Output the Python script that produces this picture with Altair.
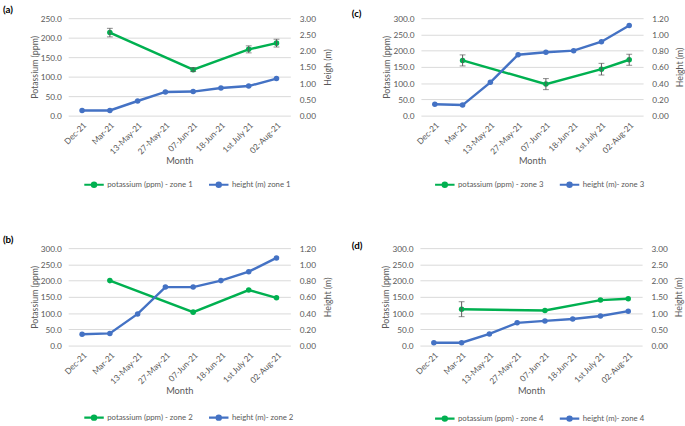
import altair as alt
import pandas as pd

months = ["Dec-21", "Mar-21", "13-May-21", "27-May-21", "07-Jun-21",
          "18-Jun-21", "1st July 21", "02-Aug-21"]
k_months = ["Mar-21", "07-Jun-21", "1st July 21", "02-Aug-21"]

# zone 1 (a)
k1 = [213, 118, 170, 186]
k1_err = [11, 5, 9, 10]
h1 = [0.16, 0.16, 0.45, 0.73, 0.74, 0.85, 0.91, 1.14]
# zone 2 (b)
k2 = [200, 103, 171, 147]
k2_err = [None, None, None, None]
h2 = [0.14, 0.15, 0.39, 0.72, 0.72, 0.80, 0.91, 1.08]
# zone 3 (c)
k3 = [170, 97, 143, 172]
k3_err = [17, 17, 18, 17]
h3 = [0.14, 0.13, 0.41, 0.75, 0.78, 0.80, 0.91, 1.11]
# zone 4 (d)
k4 = [112, 108, 140, 144]
k4_err = [23, None, None, None]
h4 = [0.09, 0.09, 0.36, 0.70, 0.76, 0.82, 0.91, 1.06]

GREEN = "#00b050"
BLUE = "#4472c4"
GRAY = "#595959"
GRID = "#d9d9d9"
FONT = "Lato"
W, H = 228, 100

LEG_SYMBOL = ("M-1,0 H1 "
              "M-0.22,0 A0.22,0.22 0 1,0 0.22,0 A0.22,0.22 0 1,0 -0.22,0 "
              "M-0.08,0 A0.08,0.08 0 1,0 0.08,0 A0.08,0.08 0 1,0 -0.08,0")


def panel(tag, tag_x, tag_y, k_vals, k_err, h_vals, k_max, h_max, h_step,
          k_label, h_label, h_title, leg_x, leg_y):
    kdf = pd.DataFrame({"month": k_months, "value": k_vals, "series": k_label})
    erows = [(m, v - e, v + e) for m, v, e in zip(k_months, k_vals, k_err) if e]
    edf = pd.DataFrame(erows, columns=["month", "lo", "hi"])
    hdf = pd.DataFrame({"month": months, "value": h_vals, "series": h_label})

    x = alt.X("month:N", sort=months, scale=alt.Scale(domain=months),
              axis=alt.Axis(title="Month", labelAngle=-45, domain=False,
                            ticks=False, labelPadding=5, labelFontSize=8.5,
                            labelColor=GRAY, titleColor=GRAY, titleFontSize=9.5,
                            titleFontWeight="normal", titleY=41, labelOverlap=False))
    color = alt.Color("series:N",
                      scale=alt.Scale(domain=[k_label, h_label], range=[GREEN, BLUE]),
                      legend=alt.Legend(title=None, orient="none", legendX=leg_x,
                                        legendY=leg_y, direction="horizontal",
                                        symbolType=LEG_SYMBOL, symbolSize=400,
                                        symbolStrokeWidth=2.2, labelFontSize=8,
                                        labelColor=GRAY, columnPadding=12,
                                        labelOffset=2))
    kscale = alt.Scale(domain=[0, k_max], nice=False)
    hscale = alt.Scale(domain=[0, h_max], nice=False)
    left_axis = alt.Axis(title="Potassium (ppm)", values=list(range(0, k_max + 1, 50)),
                         format=".1f", grid=True, gridColor=GRID, domain=False,
                         ticks=False, labelPadding=7, labelFontSize=8.5,
                         labelColor=GRAY, titleColor=GRAY, titleFontSize=9,
                         titleFontWeight="normal", titleAngle=270,
                         titleX=-35, titleY=H / 2, titleAlign="center",
                         titleBaseline="middle", labelOverlap=False)
    n = int(round(h_max / h_step))
    right_axis = alt.Axis(title=h_title, orient="right",
                          values=[round(i * h_step, 2) for i in range(n + 1)],
                          format=".2f", grid=False, domain=False, ticks=False,
                          labelPadding=9, labelFontSize=8.5, labelColor=GRAY,
                          titleColor=GRAY, titleFontSize=9,
                          titleFontWeight="normal", titleAngle=270,
                          titleBaseline="top", titlePadding=8,
                          labelOverlap=False)

    kbase = alt.Chart(kdf)
    k_pts = kbase.mark_circle(size=32, opacity=1).encode(
        x=x, y=alt.Y("value:Q", scale=kscale, axis=left_axis), color=color)
    k_line = kbase.mark_line(strokeWidth=2.5).encode(
        x=x, y=alt.Y("value:Q", scale=kscale, axis=left_axis), color=color)
    layers = [k_pts, k_line]
    if len(edf):
        ebase = alt.Chart(edf)
        layers.append(ebase.mark_rule(color=GRAY, strokeWidth=1).encode(
            x=x, y=alt.Y("lo:Q", scale=kscale, axis=left_axis), y2="hi:Q"))
        layers.append(ebase.mark_tick(color=GRAY, size=6, thickness=1).encode(
            x=x, y=alt.Y("lo:Q", scale=kscale, axis=left_axis)))
        layers.append(ebase.mark_tick(color=GRAY, size=6, thickness=1).encode(
            x=x, y=alt.Y("hi:Q", scale=kscale, axis=left_axis)))
    left = alt.layer(*layers)

    hbase = alt.Chart(hdf)
    h_pts = hbase.mark_circle(size=32, opacity=1).encode(
        x=x, y=alt.Y("value:Q", scale=hscale, axis=right_axis), color=color)
    h_line = hbase.mark_line(strokeWidth=2.5).encode(
        x=x, y=alt.Y("value:Q", scale=hscale, axis=right_axis), color=color)
    right = alt.layer(h_pts, h_line)

    tag_txt = alt.Chart(pd.DataFrame({"t": [tag]})).mark_text(
        align="left", baseline="middle", fontSize=10, fontWeight="bold",
        color="#000000").encode(text="t:N", x=alt.value(tag_x), y=alt.value(tag_y))

    return alt.layer(left, right, tag_txt).resolve_scale(y="independent").properties(
        width=W, height=H)


pa = panel("(a)", -67, -8, k1, k1_err, h1, 250, 3.0, 0.5,
           "potassium (ppm) - zone 1", "height (m) zone 1", "Heigh (m)", 15, 159)
pc = panel("(c)", -71, -4, k3, k3_err, h3, 300, 1.2, 0.2,
           "potassium (ppm) - zone 3", "height (m)- zone 3", "Height (m)", 13, 159)
pb = panel("(b)", -67, -8, k2, k2_err, h2, 300, 1.2, 0.2,
           "potassium (ppm) - zone 2", "height (m)- zone 2", "Height (m)", 15, 162)
pd_ = panel("(d)", -70, -2, k4, k4_err, h4, 300, 3.0, 0.5,
            "potassium (ppm) - zone 4", "height (m)- zone 4", "Height (m)", 14, 163)

top = alt.hconcat(pa, pc, spacing=20).resolve_scale(color="independent")
bottom = alt.hconcat(pb, pd_, spacing=20).resolve_scale(color="independent")
chart = alt.vconcat(top, bottom, spacing=45).resolve_scale(
    color="independent").configure(
    font=FONT, padding={"left": 3, "top": 0, "right": 0, "bottom": 0}).configure_view(
    stroke=None).configure_axis(labelOverlap=False)

chart.save("out.html", embed_options={"renderer": "svg", "actions": False})
